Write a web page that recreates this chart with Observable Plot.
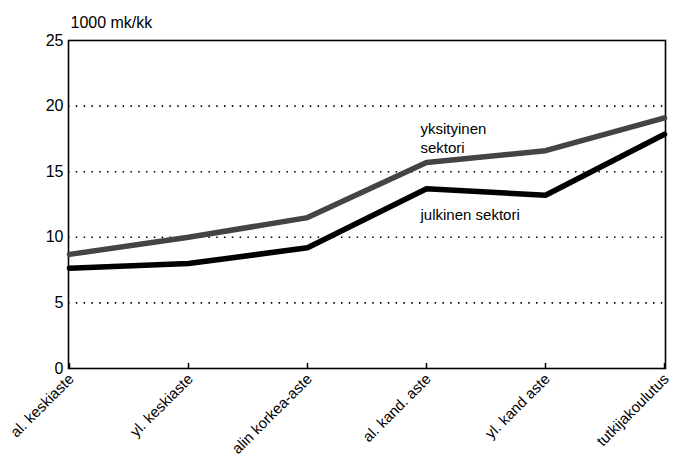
<!DOCTYPE html>
<html>
<head>
<meta charset="utf-8">
<script src="https://cdn.jsdelivr.net/npm/d3@7"></script>
<script src="https://cdn.jsdelivr.net/npm/@observablehq/plot@0.6"></script>
<style>
  html, body { margin: 0; padding: 0; background: #fff; }
  #chart svg { display: block; }
</style>
</head>
<body>
<div id="chart"></div>
<script>
const categories = ["al. keskiaste", "yl. keskiaste", "alin korkea-aste", "al. kand. aste", "yl. kand aste", "tutkijakoulutus"];
const yksityinen = [8.7, 10.0, 11.5, 15.7, 16.6, 19.1];
const julkinen = [7.65, 8.0, 9.2, 13.7, 13.2, 17.85];
const yTicks = [0, 5, 10, 15, 20, 25];
const gridTicks = [5, 10, 15, 20];
const yTitle = "1000 mk/kk";
const labelTexts = ["yksityinen\nsektori", "julkinen sektori"];
const labelCats = ["al. kand. aste", "al. kand. aste"];
const labelVals = [17.6, 11.75];

const rows = [];
categories.forEach((c, i) => {
  rows.push({cat: c, value: yksityinen[i], series: "yksityinen"});
  rows.push({cat: c, value: julkinen[i], series: "julkinen"});
});
const labels = labelTexts.map((t, i) => ({text: t, cat: labelCats[i], value: labelVals[i]}));

const chart = Plot.plot({
  width: 673,
  height: 462,
  marginLeft: 68,
  marginRight: 8,
  marginTop: 40,
  marginBottom: 94,
  style: {fontFamily: "Liberation Sans, Arial, sans-serif", fontSize: "15px", color: "#000", background: "#fff"},
  x: {type: "point", domain: categories, padding: 0},
  y: {domain: [0, 25]},
  marks: [
    Plot.gridY(gridTicks, {stroke: "#000", strokeOpacity: 1, strokeWidth: 1.6, strokeDasharray: "1.5,6.3"}),
    Plot.frame({stroke: "#000", strokeWidth: 1.6}),
    Plot.axisY({ticks: yTicks, tickSize: 0, tickPadding: 5, label: null, fontSize: 16}),
    Plot.text([yTitle], {frameAnchor: "top-left", dy: -24, dx: 2, textAnchor: "start", fontSize: 16}),
    Plot.axisX({ticks: categories, tickSize: -5, strokeWidth: 1.5, text: null, label: null}),
    Plot.axisX({ticks: categories, tickSize: 0, tickRotate: -45, tickPadding: 8, dx: 2, label: null, fontSize: 15}),
    Plot.line(rows.filter(d => d.series === "yksityinen"), {x: "cat", y: "value", stroke: "#444", strokeWidth: 5.5, strokeLinejoin: "miter"}),
    Plot.line(rows.filter(d => d.series === "julkinen"), {x: "cat", y: "value", stroke: "#000", strokeWidth: 5.5, strokeLinejoin: "miter"}),
    Plot.text(labels, {x: "cat", y: "value", text: "text", dx: -6, textAnchor: "start", lineAnchor: "middle", lineHeight: 1.25, fontSize: 15})
  ]
});
document.getElementById("chart").appendChild(chart);
</script>
</body>
</html>
